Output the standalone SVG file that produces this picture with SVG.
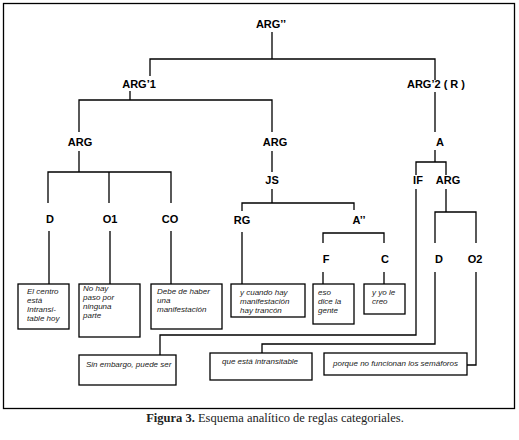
<svg xmlns="http://www.w3.org/2000/svg" width="519" height="440" viewBox="0 0 519 440">
<style>
.n{font-family:"Liberation Sans",Arial,sans-serif;font-weight:bold;font-size:11px;fill:#000;text-anchor:middle}
.t{font-family:"Liberation Sans",Arial,sans-serif;font-style:italic;font-size:8px;fill:#222}
.b{fill:#fff;stroke:#000;stroke-width:1.3}
.c path{fill:none;stroke:#000;stroke-width:1.3}
.cap{font-family:"Liberation Serif","Times New Roman",serif;font-size:12.5px;fill:#222;text-anchor:middle}
</style>
<rect x="0" y="0" width="519" height="440" fill="#fff"/>
<rect x="3.5" y="3.5" width="511" height="405" fill="none" stroke="#000" stroke-width="1.3"/>
<g class="c" id="connectors">
<path d="M272 32V59M150 76V59H435V80"/>
<path d="M130 91V100M79 132V100H272V132"/>
<path d="M79 151V172M48 203V172H171V203M109 172V203"/>
<path d="M272 151V172M272 189V203M242 211V203H354V210"/>
<path d="M435 92V132M435 150V162M416 175V162H446V175"/>
<path d="M416 189V335H160V355"/>
<path d="M446 189V212M435 243V212H476V243"/>
<path d="M435 272V344H262V353"/>
<path d="M476 272V365H467"/>
<path d="M49 231V284M110 231V284M171 231V284M242 232V284"/>
<path d="M323 243V233H384V243"/>
<path d="M323 272V284M384 272V284"/>
</g>
<g id="n-argpp"><text class="n" x="271" y="28">ARG’’</text></g>
<g id="n-arg1"><text class="n" x="139" y="88">ARG’1</text></g>
<g id="n-arg2"><text class="n" x="436" y="88">ARG’2 ( R )</text></g>
<g id="n-argl"><text class="n" x="80" y="146">ARG</text></g>
<g id="n-argm"><text class="n" x="275" y="146">ARG</text></g>
<g id="n-a"><text class="n" x="440" y="146">A</text></g>
<g id="n-js"><text class="n" x="272" y="184">JS</text></g>
<g id="n-if"><text class="n" x="418" y="184">IF</text></g>
<g id="n-argr"><text class="n" x="448" y="184">ARG</text></g>
<g id="n-d"><text class="n" x="50" y="223">D</text></g>
<g id="n-o1"><text class="n" x="110" y="223">O1</text></g>
<g id="n-co"><text class="n" x="170" y="223">CO</text></g>
<g id="n-rg"><text class="n" x="242" y="224">RG</text></g>
<g id="n-app"><text class="n" x="359" y="224">A’’</text></g>
<g id="n-f"><text class="n" x="326" y="263">F</text></g>
<g id="n-c"><text class="n" x="385" y="263">C</text></g>
<g id="n-d2"><text class="n" x="439" y="263">D</text></g>
<g id="n-o2"><text class="n" x="475" y="263">O2</text></g>
<g id="b-d"><rect class="b" x="18" y="284" width="51" height="45"/>
<text class="t" x="27" y="294">El centro</text><text class="t" x="27" y="303">está</text><text class="t" x="27" y="312">Intransi-</text><text class="t" x="27" y="321">table hoy</text></g>
<g id="b-o1"><rect class="b" x="79" y="284" width="61" height="53"/>
<text class="t" x="83" y="291">No hay</text><text class="t" x="83" y="300">paso por</text><text class="t" x="83" y="309">ninguna</text><text class="t" x="83" y="318">parte</text></g>
<g id="b-co"><rect class="b" x="151" y="284" width="71" height="45"/>
<text class="t" x="157" y="294">Debe de haber</text><text class="t" x="157" y="303">una</text><text class="t" x="157" y="312">manifestación</text></g>
<g id="b-rg"><rect class="b" x="231" y="284" width="74" height="33"/>
<text class="t" x="240" y="295">y cuando hay</text><text class="t" x="240" y="304">manifestación</text><text class="t" x="240" y="313">hay trancón</text></g>
<g id="b-f"><rect class="b" x="313" y="284" width="41" height="40"/>
<text class="t" x="318" y="295">eso</text><text class="t" x="318" y="304">dice la</text><text class="t" x="318" y="313">gente</text></g>
<g id="b-c"><rect class="b" x="364" y="284" width="41" height="30"/>
<text class="t" x="372" y="295">y yo le</text><text class="t" x="372" y="304">creo</text></g>
<g id="b-if"><rect class="b" x="79" y="355" width="97" height="30"/>
<text class="t" x="86" y="367">Sin embargo, puede ser</text></g>
<g id="b-d2"><rect class="b" x="210" y="353" width="102" height="27"/>
<text class="t" x="222" y="364">que está intransitable</text></g>
<g id="b-o2"><rect class="b" x="324" y="353" width="143" height="22"/>
<text class="t" x="333" y="366">porque no funcionan los semáforos</text></g>
<text class="cap" x="275" y="422"><tspan font-weight="bold">Figura 3.</tspan> Esquema analítico de reglas categoriales.</text>
</svg>
